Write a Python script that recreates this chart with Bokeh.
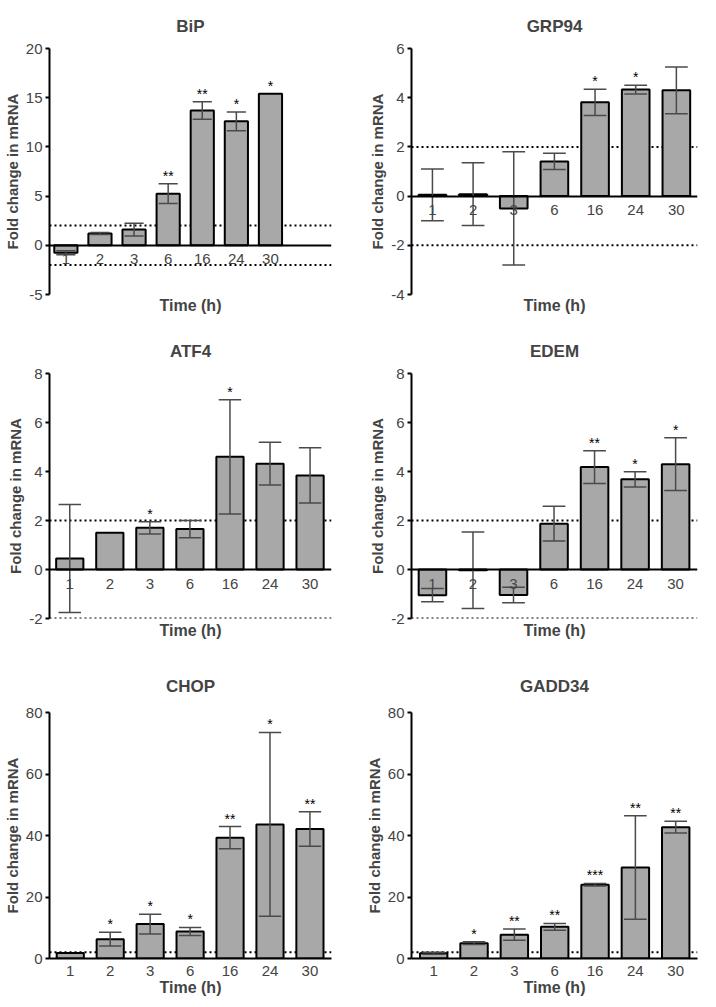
from bokeh.plotting import figure
from bokeh.layouts import gridplot
from bokeh.models import Range1d, FixedTicker, Title, Span
from bokeh.core.properties import value
from bokeh.embed import file_html
from bokeh.resources import INLINE

FONT = "Liberation Sans"

times = ["1", "2", "3", "6", "16", "24", "30"]

bip_mean = [-0.75, 1.2, 1.6, 5.25, 13.7, 12.6, 15.4]
bip_err = [0.2, 0.1, 0.65, 1.0, 0.9, 0.95, 0.0]
bip_sig = ["", "", "", "**", "**", "*", "*"]
bip_ticks = [-5, 0, 5, 10, 15, 20]

grp94_mean = [0.05, 0.08, -0.5, 1.41, 3.81, 4.33, 4.3]
grp94_err = [1.05, 1.28, 2.3, 0.33, 0.53, 0.18, 0.95]
grp94_sig = ["", "", "", "", "*", "*", ""]
grp94_ticks = [-4, -2, 0, 2, 4, 6]

atf4_mean = [0.45, 1.5, 1.7, 1.65, 4.6, 4.32, 3.84]
atf4_err = [2.2, 0.0, 0.25, 0.35, 2.33, 0.87, 1.13]
atf4_sig = ["", "", "*", "", "*", "", ""]
atf4_ticks = [-2, 0, 2, 4, 6, 8]

edem_mean = [-1.05, -0.03, -1.04, 1.87, 4.18, 3.68, 4.3]
edem_err = [0.27, 1.56, 0.32, 0.71, 0.67, 0.31, 1.08]
edem_sig = ["", "", "", "", "**", "*", "*"]
edem_ticks = [-2, 0, 2, 4, 6, 8]

chop_mean = [1.8, 6.3, 11.2, 8.8, 39.3, 43.6, 42.1]
chop_err = [0.0, 2.2, 3.2, 1.3, 3.6, 29.9, 5.6]
chop_sig = ["", "*", "*", "*", "**", "*", "**"]
chop_ticks = [0, 20, 40, 60, 80]

gadd34_mean = [1.7, 5.0, 7.75, 10.3, 24.0, 29.6, 42.7]
gadd34_err = [0.3, 0.45, 1.85, 1.1, 0.4, 16.8, 1.9]
gadd34_sig = ["", "*", "**", "**", "***", "**", "**"]
gadd34_ticks = [0, 20, 40, 60, 80]

ref_lines = [2, -2]


def panel(name, mean, err, sig, yticks, xr, width, height, borders,
          fixed_axis=True, title_offset=0, xlabel_offset=0, title_standoff=10,
          xlabel_standoff=0):
    bl, br, bt, bb = borders
    x = list(range(len(times)))
    p = figure(width=width, height=height,
               x_range=Range1d(*xr), y_range=Range1d(yticks[0], yticks[-1]),
               output_backend="svg", toolbar_location=None,
               min_border_left=bl, min_border_right=br,
               min_border_top=bt, min_border_bottom=bb)
    p.title.text = name
    p.title.align = "center"
    p.title.text_font = FONT
    p.title.text_font_size = "17px"
    p.title.text_font_style = "bold"
    p.title.offset = title_offset
    p.title.standoff = title_standoff
    p.outline_line_color = None
    p.grid.visible = False
    p.background_fill_color = "white"

    # dotted +/-2 fold thresholds, behind the bars
    for r in ref_lines:
        if yticks[0] <= r <= yticks[-1]:
            p.add_layout(Span(location=r, dimension="width", line_color="black",
                              line_width=2, line_dash="2 3", level="underlay"))

    p.vbar(x=x, top=mean, bottom=0, width=0.68, fill_color="#a8a8a8",
           line_color="black", line_width=2)

    xe = [i for i, e in enumerate(err) if e > 0]
    hi = [mean[i] + err[i] for i in xe]
    lo = [mean[i] - err[i] for i in xe]
    cap = 0.28
    ecol = "#4a4a4a"
    p.segment(x0=xe, y0=lo, x1=xe, y1=hi, line_color=ecol, line_width=1.5)
    p.segment(x0=[i - cap for i in xe], y0=hi, x1=[i + cap for i in xe], y1=hi,
              line_color=ecol, line_width=1.5)
    p.segment(x0=[i - cap for i in xe], y0=lo, x1=[i + cap for i in xe], y1=lo,
              line_color=ecol, line_width=1.5)

    xs = [i for i, s in enumerate(sig) if s]
    ys = [mean[i] + err[i] for i in xs]
    p.text(x=xs, y=ys, text=[sig[i] for i in xs], text_align="center",
           text_baseline="bottom", text_font=value(FONT),
           text_font_size="14px", text_color="black")

    # y axis
    ya = p.yaxis[0]
    ya.ticker = FixedTicker(ticks=yticks, minor_ticks=[])
    ya.major_label_overrides = {t: str(t) for t in yticks}
    ya.axis_line_width = 2
    ya.major_tick_line_width = 2
    ya.major_tick_out = 4
    ya.major_tick_in = 0
    ya.minor_tick_line_color = None
    ya.major_label_standoff = 3
    ya.major_label_text_font = FONT
    ya.major_label_text_font_size = "15px"
    ya.major_label_text_color = "#444444"
    ya.axis_label = "Fold change in mRNA"
    ya.axis_label_text_font = FONT
    ya.axis_label_text_font_size = "15px"
    ya.axis_label_text_font_style = "bold"
    ya.axis_label_standoff = 2

    # x axis
    xa = p.xaxis[0]
    xa.ticker = FixedTicker(ticks=x, minor_ticks=[])
    xa.major_label_overrides = {i: t for i, t in enumerate(times)}
    xa.axis_line_width = 2
    xa.major_tick_line_color = None
    xa.minor_tick_line_color = None
    xa.major_label_text_font = FONT
    xa.major_label_text_font_size = "15px"
    xa.major_label_text_color = "#444444"
    if fixed_axis:
        # axis drawn through y = 0, label placed below the frame
        xa.major_label_standoff = 3
        xa.fixed_location = 0
        t = Title(text="Time (h)", align="center", text_font=FONT,
                  text_font_size="16px", text_font_style="bold",
                  offset=xlabel_offset, standoff=xlabel_standoff)
        p.add_layout(t, "below")
    else:
        xa.major_label_standoff = 1
        xa.axis_label = "Time (h)"
        xa.axis_label_text_font = FONT
        xa.axis_label_text_font_size = "16px"
        xa.axis_label_text_font_style = "bold"
        xa.axis_label_standoff = 0
    return p


W1, W2 = 355, 345
H1, H2, H3 = 322, 330, 346

p1 = panel("BiP", bip_mean, bip_err, bip_sig, bip_ticks, (-0.48, 7.79),
           W1, H1, (49, 10, 48, 27), title_offset=-4, xlabel_offset=-8,
           title_standoff=26)
p2 = panel("GRP94", grp94_mean, grp94_err, grp94_sig, grp94_ticks, (-0.515, 6.52),
           W2, H1, (56, 3, 48, 28), title_offset=3, title_standoff=26)
p3 = panel("ATF4", atf4_mean, atf4_err, atf4_sig, atf4_ticks, (-0.506, 6.535),
           W1, H2, (45, 24, 51, 34), title_standoff=25, xlabel_standoff=3)
p4 = panel("EDEM", edem_mean, edem_err, edem_sig, edem_ticks, (-0.517, 6.54),
           W2, H2, (56, 2, 50, 34), title_offset=3, title_standoff=25,
           xlabel_standoff=3)
p5 = panel("CHOP", chop_mean, chop_err, chop_sig, chop_ticks, (-0.52, 6.54),
           W1, H3, (48, 20, 60, 38), fixed_axis=False, title_offset=3,
           title_standoff=33)
p6 = panel("GADD34", gadd34_mean, gadd34_err, gadd34_sig, gadd34_ticks, (-0.55, 6.54),
           W2, H3, (54, 2, 60, 38), fixed_axis=False, title_offset=3,
           title_standoff=33)

grid = gridplot([[p1, p2], [p3, p4], [p5, p6]], toolbar_location=None)

open("out.html", "w").write(file_html(grid, INLINE))
